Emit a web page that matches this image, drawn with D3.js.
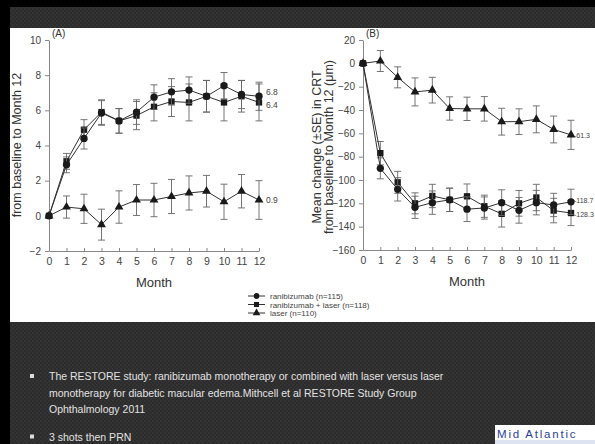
<!DOCTYPE html>
<meta charset="utf-8">
<script src="https://d3js.org/d3.v7.min.js"></script>
<style>
  body { margin: 0; background: #000; }
  svg { display: block; font-family: "Liberation Sans", Arial, sans-serif; }
</style>
<div id="my_dataviz"></div>
<script>
    // data
    var months = [0, 1, 2, 3, 4, 5, 6, 7, 8, 9, 10, 11, 12];

    // (A) BCVA
    var bcvaRanib = [0, 2.9, 4.4, 5.85, 5.4, 5.9, 6.75, 7.05, 7.15, 6.8, 7.4, 6.9, 6.8];
    var bcvaRanibSE = [0, 0.45, 0.6, 0.7, 0.7, 0.7, 0.7, 0.75, 0.75, 0.9, 0.75, 0.8, 0.8];
    var bcvaCombo = [0, 3.1, 4.9, 5.9, 5.4, 5.7, 6.2, 6.5, 6.45, 6.8, 6.45, 6.8, 6.45];
    var bcvaComboSE = [0, 0.45, 0.57, 0.7, 0.7, 0.8, 0.8, 0.85, 1.05, 0.9, 1.05, 0.9, 1.05];
    var bcvaLaser = [0, 0.5, 0.4, -0.5, 0.5, 0.9, 0.9, 1.1, 1.3, 1.4, 0.8, 1.4, 0.9];
    var bcvaLaserSE = [0, 0.63, 0.83, 0.88, 0.92, 0.88, 0.95, 0.97, 0.97, 0.9, 1.0, 0.95, 1.1];
    var bcvaEndLabels = ["6.8", "6.4", "0.9"];
    var bcvaTicks = [-2, 0, 2, 4, 6, 8, 10];

    // (B) CRT
    var crtRanib = [0, -90, -108, -123.4, -119.4, -117, -125, -124, -119.4, -126, -119.4, -121.4, -118.7];
    var crtRanibSE = [0, 9, 10, 9.5, 10, 10, 10.6, 9.5, 11, 11, 10.5, 10, 10.8];
    var crtCombo = [0, -77, -102, -120, -113.7, -117, -114, -122.5, -129, -120, -115, -126.2, -128.3];
    var crtComboSE = [0, 10, 9.4, 9, 10, 10, 10.6, 9.5, 11.3, 11, 11.3, 10.5, 10.8];
    var crtLaser = [0, 2, -12, -24.5, -23, -38.7, -39, -39, -50, -50, -48, -56.7, -61.3];
    var crtLaserSE = [0, 9, 9, 12, 11, 10, 10, 10.5, 11.5, 11, 11.5, 11.5, 12.5];
    var crtEndLabels = ["-118.7", "-128.3", "-61.3"];
    var crtTicks = [-160, -140, -120, -100, -80, -60, -40, -20, 0, 20];

    var legendNames = ["ranibizumab (n=115)", "ranibizumab + laser (n=118)", "laser (n=110)"];
    var bullets = [
        ["The RESTORE study: ranibizumab monotherapy or combined with laser versus laser",
         "monotherapy for diabetic macular edema.Mithcell et al RESTORE Study Group",
         "Ophthalmology 2011"],
        ["3 shots then PRN"]
    ];

    var W = 595, H = 444;
    var svg = d3.select("#my_dataviz")
        .append("svg")
        .attr("width", W)
        .attr("height", H);

    // dark textured slide background
    var defs = svg.append("defs");
    var pat = defs.append("pattern")
        .attr("id", "tex")
        .attr("width", 4).attr("height", 4)
        .attr("patternUnits", "userSpaceOnUse");
    pat.append("rect").attr("width", 4).attr("height", 4).attr("fill", "#2c2c2c");
    pat.append("circle").attr("cx", 1).attr("cy", 1).attr("r", 0.9).attr("fill", "#383838");
    pat.append("circle").attr("cx", 3).attr("cy", 3).attr("r", 0.9).attr("fill", "#343434");

    svg.append("rect").attr("width", W).attr("height", H).attr("fill", "url(#tex)");
    svg.append("rect").attr("width", W).attr("height", 7).attr("fill", "#000");
    svg.append("rect").attr("width", 10).attr("height", H).attr("fill", "#000");
    svg.append("rect").attr("x", 10).attr("y", 28).attr("width", W - 10).attr("height", 294).attr("fill", "#fff");

    var lineCol = "#333", errCol = "#666", axisCol = "#888", txtCol = "#444";

    function panel(opt) {
        var x = d3.scaleLinear().domain([0, 12]).range(opt.xr);
        var y = d3.scaleLinear().domain(opt.yd).range(opt.yr);
        var g = svg.append("g");

        // x axis, ticks pointing up into the plot
        g.append("g")
            .attr("transform", "translate(0," + opt.yr[0] + ")")
            .call(d3.axisBottom(x).tickValues(months).tickSizeInner(-3).tickSizeOuter(0).tickPadding(7))
            .call(function (a) {
                a.select(".domain").attr("stroke", axisCol);
                a.selectAll("line").attr("stroke", axisCol);
                a.selectAll("text").attr("fill", txtCol).style("font-size", "10.5px");
            });

        g.append("g")
            .attr("transform", "translate(" + opt.xr[0] + ",0)")
            .call(d3.axisLeft(y).tickValues(opt.ticks).tickSizeInner(4).tickSizeOuter(0).tickPadding(4))
            .call(function (a) {
                a.select(".domain").attr("stroke", axisCol);
                a.selectAll("line").attr("stroke", axisCol);
                a.selectAll("text").attr("fill", txtCol).style("font-size", "10px");
            });

        g.append("text")
            .attr("x", (opt.xr[0] + opt.xr[1]) / 2)
            .attr("y", opt.yr[0] + 36)
            .attr("text-anchor", "middle")
            .attr("fill", "#333")
            .style("font-size", "13px")
            .text("Month");

        g.append("text")
            .attr("x", opt.xr[0] + 3)
            .attr("y", 37)
            .attr("fill", "#333")
            .style("font-size", "10px")
            .text(opt.tag);

        // y labels (rotated)
        opt.ylab.forEach(function (t, i) {
            g.append("text")
                .attr("transform", "translate(" + opt.ylabX[i] + "," + opt.ylabY + ") rotate(-90)")
                .attr("text-anchor", "middle")
                .attr("fill", "#333")
                .style("font-size", "12.5px")
                .text(t);
        });

        opt.series.forEach(function (s) {
            var pts = months.map(function (m, i) { return { m: m, v: s.v[i], se: s.se[i] }; });

            var eb = g.append("g").selectAll("g").data(pts.filter(function (d) { return d.se > 0; }))
                .enter().append("g");
            eb.append("line")
                .attr("x1", function (d) { return x(d.m); }).attr("x2", function (d) { return x(d.m); })
                .attr("y1", function (d) { return y(d.v - d.se); }).attr("y2", function (d) { return y(d.v + d.se); })
                .attr("stroke", errCol).attr("stroke-width", 0.9);
            [-1, 1].forEach(function (k) {
                eb.append("line")
                    .attr("x1", function (d) { return x(d.m) - 3.5; }).attr("x2", function (d) { return x(d.m) + 3.5; })
                    .attr("y1", function (d) { return y(d.v + k * d.se); }).attr("y2", function (d) { return y(d.v + k * d.se); })
                    .attr("stroke", errCol).attr("stroke-width", 0.9);
            });

            g.append("path")
                .datum(pts)
                .attr("fill", "none")
                .attr("stroke", lineCol)
                .attr("stroke-width", 1)
                .attr("d", d3.line().x(function (d) { return x(d.m); }).y(function (d) { return y(d.v); }));

            g.append("g").selectAll("path").data(pts).enter().append("path")
                .attr("transform", function (d) { return "translate(" + x(d.m) + "," + y(d.v) + ")"; })
                .attr("d", d3.symbol().type(s.sym).size(s.size))
                .attr("fill", "#1a1a1a");

            g.append("text")
                .attr("x", x(12) + opt.endDx)
                .attr("y", y(s.v[12]) + s.dy)
                .attr("fill", "#444")
                .style("font-size", opt.endFont)
                .text(s.label);
        });
    }

    panel({
        xr: [49, 259], yd: [-2, 10], yr: [251, 40], ticks: bcvaTicks, tag: "(A)",
        endDx: 7, endFont: "8.5px",
        ylab: ["from baseline to Month 12"], ylabX: [21], ylabY: 145,
        series: [
            { v: bcvaLaser, se: bcvaLaserSE, sym: d3.symbolTriangle, size: 34, label: bcvaEndLabels[2], dy: 3 },
            { v: bcvaCombo, se: bcvaComboSE, sym: d3.symbolSquare, size: 40, label: bcvaEndLabels[1], dy: 6 },
            { v: bcvaRanib, se: bcvaRanibSE, sym: d3.symbolCircle, size: 42, label: bcvaEndLabels[0], dy: -1 }
        ]
    });

    panel({
        xr: [363, 571], yd: [-160, 20], yr: [250, 40], ticks: crtTicks, tag: "(B)",
        endDx: 3, endFont: "7px",
        ylab: ["Mean change (\u00B1SE) in CRT", "from baseline to Month 12 (\u03BCm)"], ylabX: [321, 333], ylabY: 147,
        series: [
            { v: crtLaser, se: crtLaserSE, sym: d3.symbolTriangle, size: 34, label: crtEndLabels[2], dy: 3 },
            { v: crtCombo, se: crtComboSE, sym: d3.symbolSquare, size: 40, label: crtEndLabels[1], dy: 4 },
            { v: crtRanib, se: crtRanibSE, sym: d3.symbolCircle, size: 42, label: crtEndLabels[0], dy: 1 }
        ]
    });

    // legend
    var legSyms = [d3.symbolCircle, d3.symbolSquare, d3.symbolTriangle];
    var leg = svg.append("g").selectAll("g").data(legendNames).enter().append("g")
        .attr("transform", function (d, i) { return "translate(0," + (296 + i * 8.5) + ")"; });
    leg.append("line").attr("x1", 248).attr("x2", 265).attr("stroke", lineCol);
    leg.append("path")
        .attr("transform", "translate(256.5,0)")
        .attr("d", function (d, i) { return d3.symbol().type(legSyms[i]).size(26)(); })
        .attr("fill", "#1a1a1a");
    leg.append("text")
        .attr("x", 270).attr("y", 3)
        .attr("fill", "#444")
        .style("font-size", "8px")
        .text(function (d) { return d; });

    // slide text
    var lineY = 380;
    bullets.forEach(function (b, bi) {
        if (bi > 0) lineY += 11;
        svg.append("rect").attr("x", 30).attr("y", lineY - 6).attr("width", 4).attr("height", 4).attr("fill", "#ddd");
        b.forEach(function (t) {
            svg.append("text")
                .attr("x", 49).attr("y", lineY)
                .attr("fill", "#e2e2e2")
                .style("font-size", "10.5px")
                .text(t);
            lineY += 16.5;
        });
    });

    // logo corner
    svg.append("rect").attr("x", 495).attr("y", 425).attr("width", 100).attr("height", 19).attr("fill", "#fff");
    svg.append("rect").attr("x", 495).attr("y", 440).attr("width", 100).attr("height", 4).attr("fill", "#dde3f0");
    svg.append("text")
        .attr("x", 497).attr("y", 438)
        .attr("fill", "#2a3f9a")
        .style("font-size", "11.5px")
        .style("letter-spacing", "1.8px")
        .text("Mid Atlantic");
</script>
